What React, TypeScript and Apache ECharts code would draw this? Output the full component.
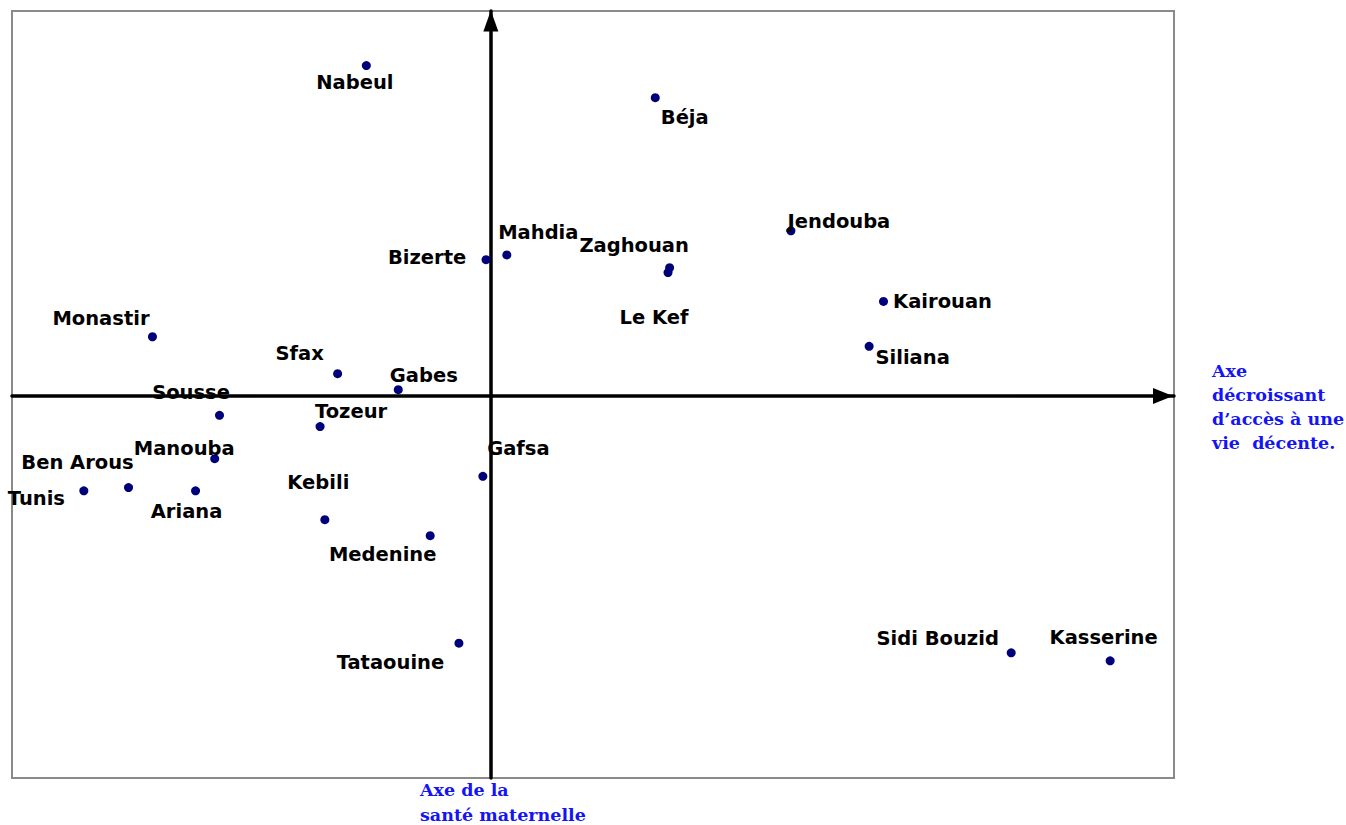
import React, { useEffect, useRef } from "react";
import * as echarts from "echarts";

// Governorates and their positions on the two factorial axes
const governorates = [
  "Nabeul", "Béja", "Jendouba", "Mahdia", "Bizerte", "Zaghouan", "Le Kef",
  "Kairouan", "Monastir", "Siliana", "Sfax", "Gabes", "Sousse", "Tozeur",
  "Manouba", "Gafsa", "Tunis", "Ben Arous", "Ariana", "Kebili", "Medenine",
  "Tataouine", "Sidi Bouzid", "Kasserine",
];
const axisDecentLife = [
  -0.78, 1.03, 1.88, 0.10, -0.03, 1.12, 1.11,
  2.46, -2.12, 2.37, -0.96, -0.58, -1.70, -1.07,
  -1.73, -0.05, -2.55, -2.27, -1.85, -1.04, -0.38,
  -0.20, 3.26, 3.88,
];
const axisMaternalHealth = [
  2.06, 1.86, 1.03, 0.88, 0.85, 0.80, 0.77,
  0.59, 0.37, 0.31, 0.14, 0.04, -0.12, -0.19,
  -0.39, -0.50, -0.59, -0.57, -0.59, -0.77, -0.87,
  -1.54, -1.60, -1.65,
];

// Label placement relative to each dot (pixels)
const labelDx = [
  -11.5, 29.5, 48, 31.5, -59, -35.5, -14,
  59, -51.5, 43.5, -38, 25.5, -28.5, 31,
  -30.5, 35.5, -47.5, -51, -9, -6.5, -47.5,
  -68.5, -73.5, -6.5,
];
const labelDy = [
  17, 20, -9, -22, -2, -22, 45,
  0, -18, 11, -20, -14, -23, -15,
  -10, -28, 8, -25, 21, -37, 19,
  19, -14, -23,
];

const xAxisTitle = ["Axe", "décroissant", "d’accès à une", "vie  décente."];
const yAxisTitle = ["Axe de la", "santé maternelle"];

export default function App() {
  const ref = useRef<HTMLDivElement>(null);

  useEffect(() => {
    document.body.style.margin = "0";
    const chart = echarts.init(ref.current!, undefined, { renderer: "svg" });

    const data = governorates.map((name, i) => ({
      name,
      value: [axisDecentLife[i], axisMaternalHealth[i]],
      label: { offset: [labelDx[i], labelDy[i]] },
    }));

    const blueFont = "bold 17.5px 'DejaVu Serif', 'Liberation Serif', serif";
    const graphics: any[] = [];
    xAxisTitle.forEach((t, i) => {
      graphics.push({
        type: "text",
        x: 1212,
        y: 371 + i * 24,
        style: { text: t, font: blueFont, fill: "#1414f5", verticalAlign: "middle", align: "left" },
      });
    });
    yAxisTitle.forEach((t, i) => {
      graphics.push({
        type: "text",
        x: 420,
        y: 790 + i * 25,
        style: { text: t, font: blueFont, fill: "#1414f5", verticalAlign: "middle", align: "left" },
      });
    });

    const axisLine = {
      show: true,
      onZero: true,
      lineStyle: { color: "#000", width: 3.5 },
    };

    chart.setOption({
      animation: false,
      backgroundColor: "#fff",
      grid: {
        left: 12,
        top: 11,
        width: 1162,
        height: 767,
        show: true,
        borderColor: "#8a8a8a",
        borderWidth: 2,
        containLabel: false,
      },
      xAxis: {
        type: "value",
        min: -3,
        max: 4.28,
        axisLine: { ...axisLine, symbol: ["none", "triangle"], symbolSize: [16, 20], symbolOffset: [0, -11] },
        axisTick: { show: false },
        axisLabel: { show: false },
        splitLine: { show: false },
      },
      yAxis: {
        type: "value",
        min: -2.38,
        max: 2.4,
        axisLine: { ...axisLine, symbol: ["none", "triangle"], symbolSize: [15, 21], symbolOffset: [0, -10] },
        axisTick: { show: false },
        axisLabel: { show: false },
        splitLine: { show: false },
      },
      series: [
        {
          type: "scatter",
          symbol: "circle",
          symbolSize: 9,
          itemStyle: { color: "#00007a", opacity: 1 },
          z: 3,
          label: {
            show: true,
            position: "inside",
            align: "center",
            verticalAlign: "middle",
            formatter: "{b}",
            color: "#000",
            opacity: 1,
            fontFamily: "'DejaVu Sans', sans-serif",
            fontWeight: "bold",
            fontSize: 19.5,
          },
          data,
        },
      ],
      graphic: graphics,
    });

    return () => chart.dispose();
  }, []);

  return (
    <div
      ref={ref}
      style={{ position: "absolute", left: 0, top: 0, width: 1346, height: 825 }}
    />
  );
}
